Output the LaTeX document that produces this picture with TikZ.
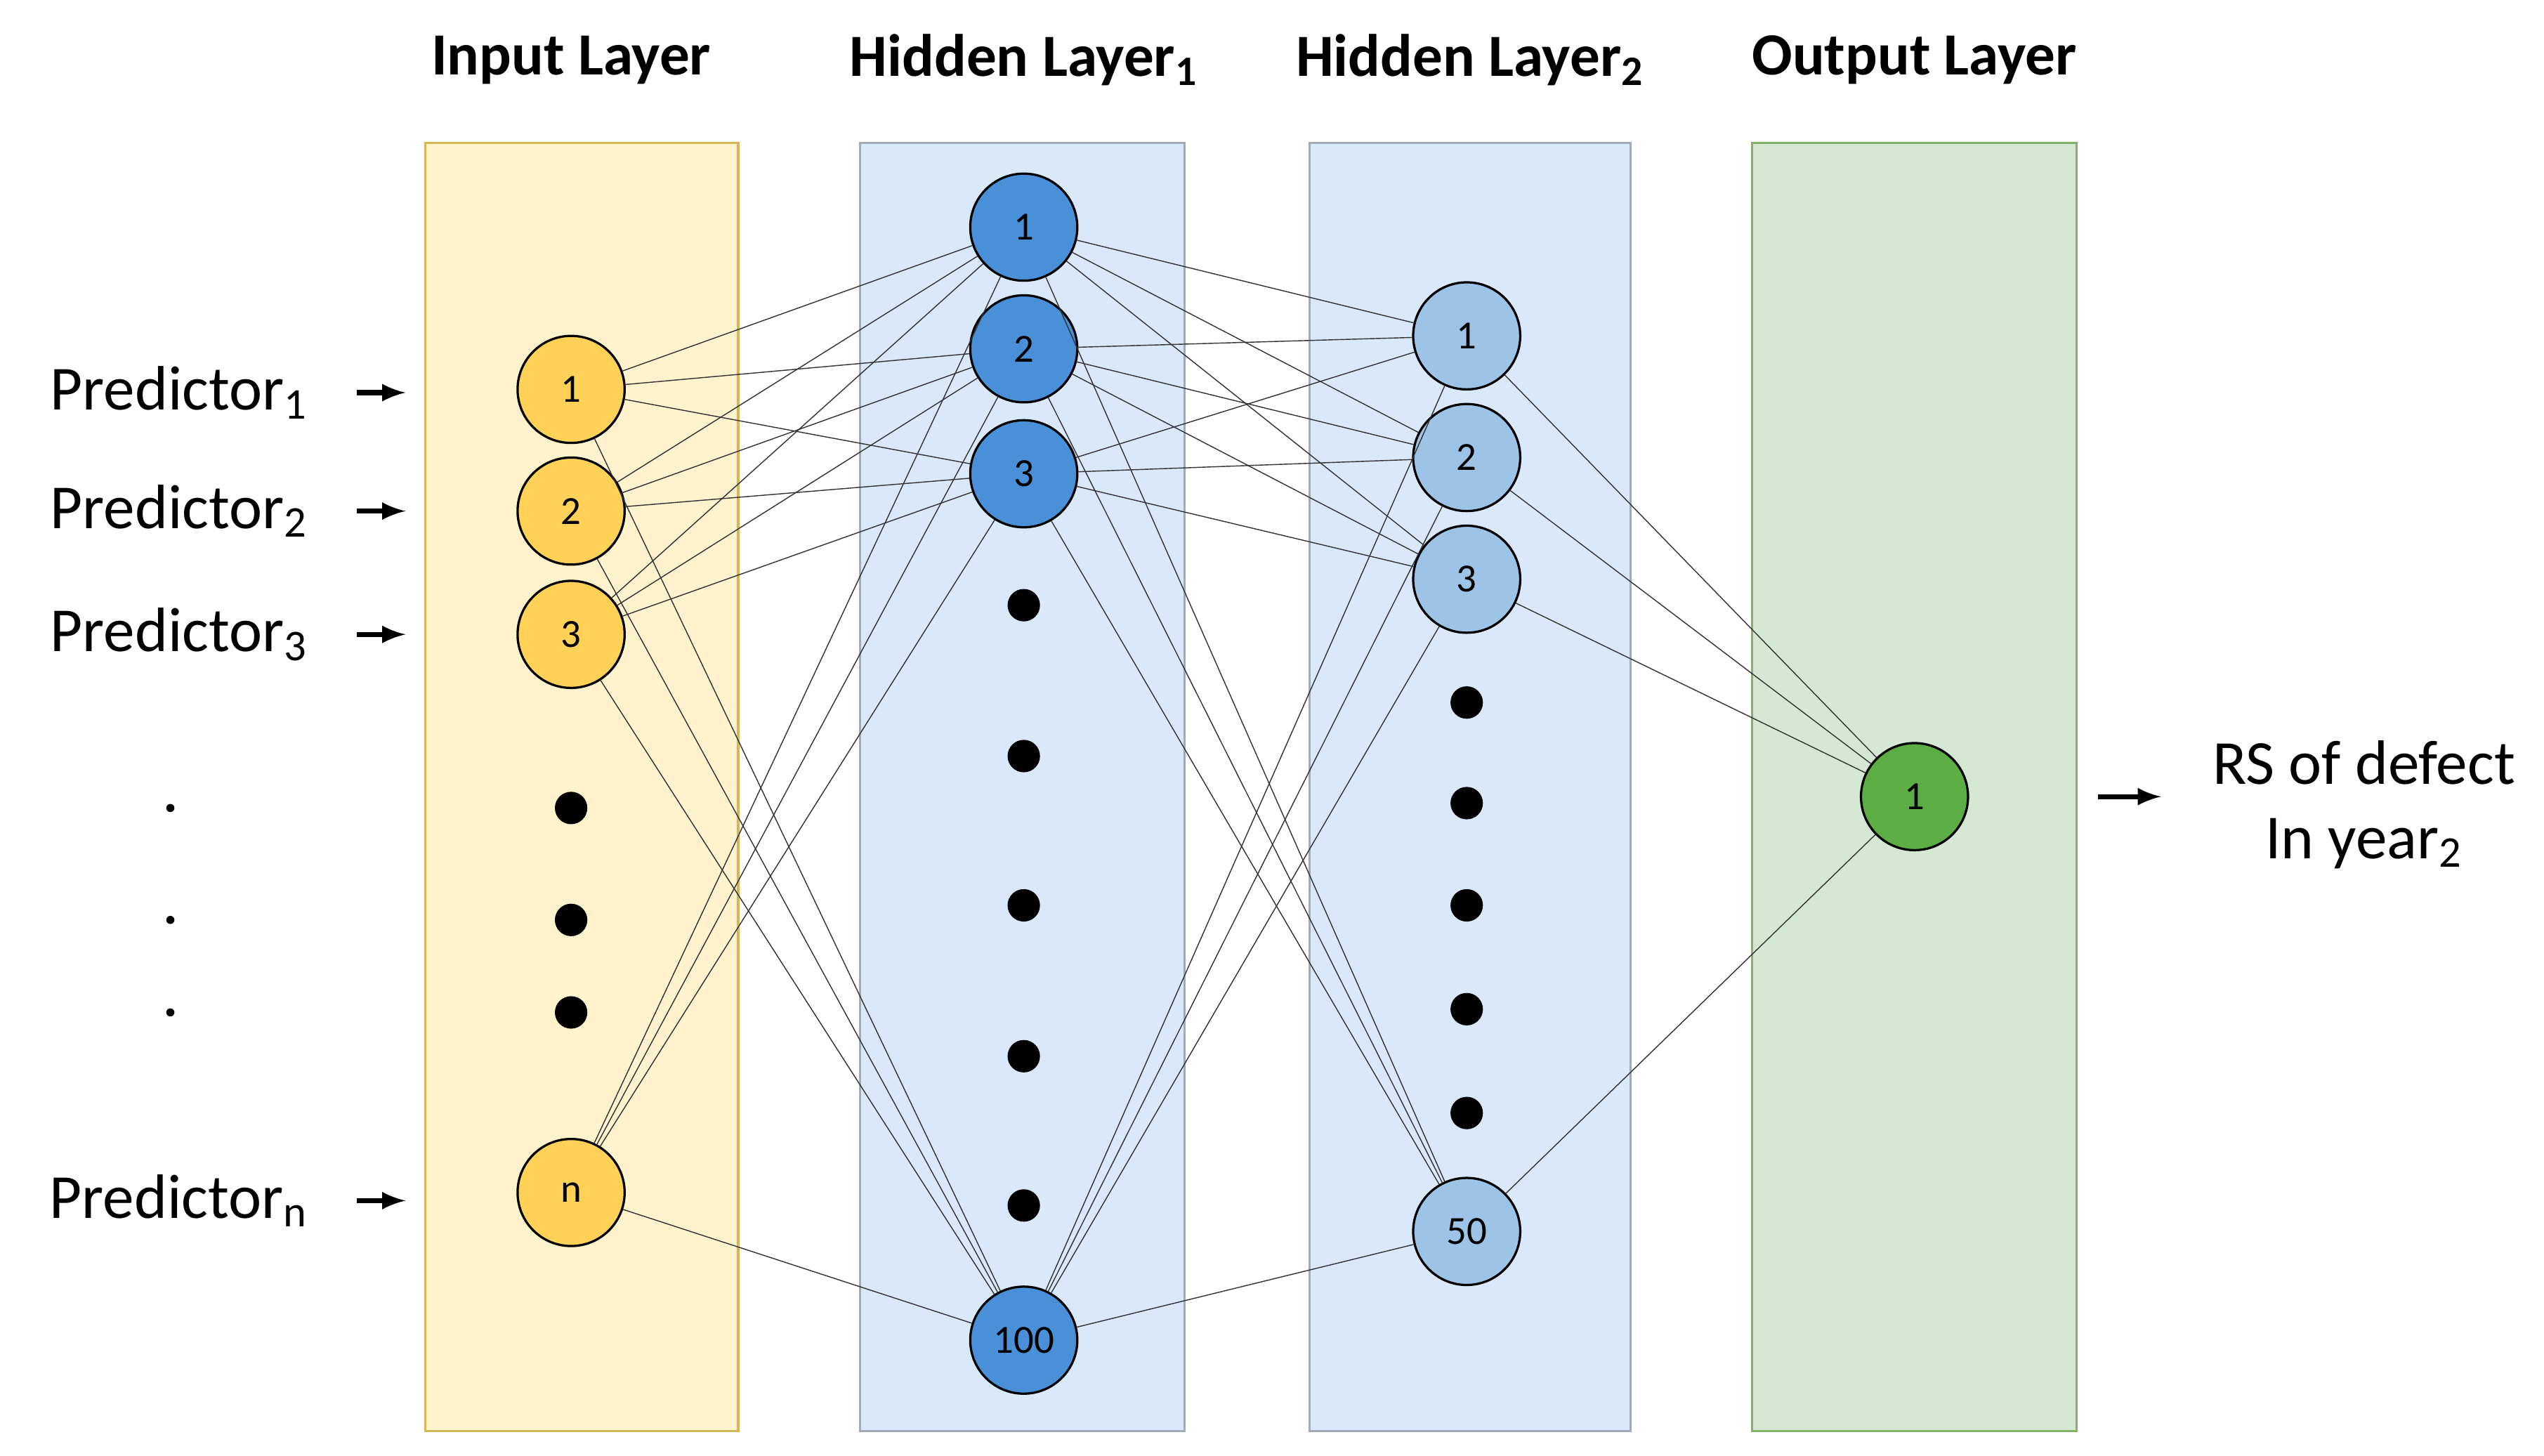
\documentclass[tikz,border=0pt]{standalone}
\usepackage{fontspec}
\setmainfont{Carlito}
\begin{document}
\begin{tikzpicture}[x=0.02cm,y=-0.02cm,
 lay/.style={draw=#1,line width=0.8pt},
 neu/.style={circle,draw=black,line width=0.8pt,minimum size=1.32cm,inner sep=0pt,font=\fontsize{14}{16}\selectfont},
 dot/.style={circle,fill=black,minimum size=0.4cm,inner sep=0pt},
 sdot/.style={circle,fill=black,minimum size=0.1cm,inner sep=0pt},
 ttl/.style={font=\bfseries\fontsize{21}{24}\selectfont},
 lbl/.style={font=\fontsize{22}{26}\selectfont},
 con/.style={line width=0.35pt,draw=black!80},
 arr/.style={-latex,line width=1.8pt}]
\definecolor{inF}{HTML}{FFF2CC}\definecolor{inD}{HTML}{D6B656}
\definecolor{hF}{HTML}{DAE8FC}\definecolor{hD}{HTML}{A0AAB8}
\definecolor{oF}{HTML}{D5E8D4}\definecolor{oD}{HTML}{82B366}
\definecolor{n0}{HTML}{FFD257}\definecolor{n1}{HTML}{4A90D9}
\definecolor{n2}{HTML}{9DC3E6}\definecolor{n3}{HTML}{5BAD44}
\useasboundingbox (0,0) rectangle (1568,897);
\draw[lay=inD,fill=inF] (262,88) rectangle (455,882);
\draw[lay=hD,fill=hF] (530,88) rectangle (730,882);
\draw[lay=hD,fill=hF] (807,88) rectangle (1005,882);
\draw[lay=oD,fill=oF] (1080,88) rectangle (1280,882);
\node[ttl] (t0) at (352,37) {Input Layer};
\node[ttl] (t1) at (631,37) {Hidden Layer\textsubscript{1}};
\node[ttl] (t2) at (906,37) {Hidden Layer\textsubscript{2}};
\node[ttl] (t3) at (1180,37) {Output Layer};
\foreach \n/\y in {1/240,2/315,3/391,n/735} \node[neu,fill=n0] (i\n) at (352,\y) {\n};
\foreach \n/\y in {1/140,2/215,3/292,100/826} \node[neu,fill=n1] (a\n) at (631,\y) {\n};
\foreach \n/\y in {1/207,2/282,3/357,50/759} \node[neu,fill=n2] (b\n) at (904,\y) {\n};
\node[neu,fill=n3] (o1) at (1180,491) {1};
\foreach \y [count=\k] in {498,567,624} {\node[dot] (di\k) at (352,\y) {}; \node[sdot] (dl\k) at (105,\y) {};}
\foreach \y [count=\k] in {373,466,558,651,743} \node[dot] (da\k) at (631,\y) {};
\foreach \y [count=\k] in {433,495,558,622,686} \node[dot] (db\k) at (904,\y) {};
\foreach \s in {1,2,3,n} \foreach \t in {1,2,3,100} \draw[con] (i\s) -- (a\t);
\foreach \s in {1,2,3,100} \foreach \t in {1,2,3,50} \draw[con] (a\s) -- (b\t);
\foreach \s in {1,2,3,50} \draw[con] (b\s) -- (o1);
\foreach \n/\y/\s in {1/242/1,2/315/2,3/391/3,n/740/n} {
 \node[lbl,anchor=east] (p\n) at (196,\y) {Predictor\textsubscript{\s}};
 \coordinate (pa\n) at (220,\y); \coordinate (pb\n) at (250,\y);
 \draw[arr] (pa\n) -- (pb\n);}
\coordinate (oa) at (1293,491); \coordinate (ob) at (1332,491);
\draw[arr] (oa) -- (ob);
\node[lbl,align=center] (rs) at (1457,496) {RS of defect\\In year\textsubscript{2}};
\end{tikzpicture}
\end{document}
